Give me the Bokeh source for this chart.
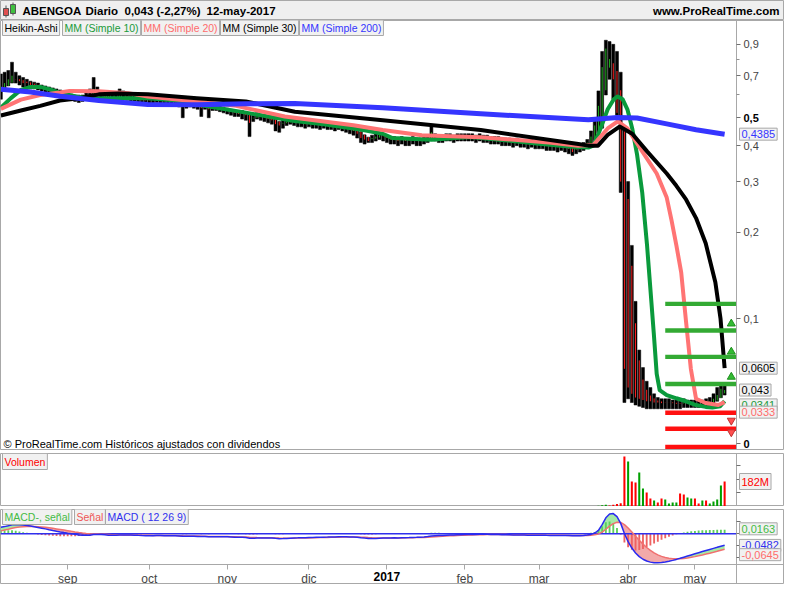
import math
from bokeh.plotting import figure
from bokeh.layouts import column
from bokeh.models import (Range1d, FixedTicker, CustomJSTransform, ColumnDataSource,
                          Label, CustomJSTickFormatter, LinearAxis)
from bokeh.transform import transform
from bokeh.core.properties import value
from bokeh.embed import file_html
from bokeh.resources import INLINE

FONT = "Liberation Sans"

# ---------------- data ----------------
month_labels = ["sep", "oct", "nov", "dic", "2017", "feb", "mar", "abr", "may"]
month_index = [18, 40, 61, 83, 104, 125, 145, 169, 187]

# Heikin-Ashi closes / highs / lows per trading day (8-ago-2016 .. 12-may-2017)
close = [.64, .66, .68, .70, .68, .67, .66, .66, .65, .645,
         .64, .635, .63, .62, .615, .61, .605, .60, .595, .59,
         .585, .58, .585, .59, .60, .63, .61, .595, .585, .58,
         .585, .59, .60, .595, .59, .585, .58, .58, .575, .575,
         .575, .575, .58, .575, .57, .575, .57, .565, .56, .545,
         .555, .56, .555, .55, .54, .55, .535, .545, .545, .54,
         .535, .53, .525, .52, .515, .52, .51, .48, .50, .51,
         .505, .50, .495, .49, .475, .47, .48, .485, .49, .485,
         .48, .48, .475, .48, .475, .475, .47, .475, .47, .47,
         .465, .47, .465, .46, .455, .45, .44, .425, .42, .415,
         .425, .43, .435, .43, .425, .42, .42, .415, .42, .415,
         .415, .42, .415, .415, .42, .425, .445, .43, .425, .425,
         .43, .43, .425, .43, .43, .43, .43, .43, .425, .43,
         .425, .425, .42, .42, .42, .415, .415, .415, .41, .415,
         .41, .41, .405, .41, .405, .405, .405, .40, .40, .40,
         .395, .40, .395, .39, .38, .39, .395, .40, .41, .43,
         .47, .55, .75, .87, .80, .68, .52, .30, .06, .045,
         .04, .037, .036, .035, .034, .034, .033, .033, .0325, .033,
         .033, .0325, .032, .032, .033, .0325, .032, .032, .032, .0325,
         .033, .034, .036, .039, .044, .043]
high = [.71, .72, .73, .78, .72, .70, .69, .68, .67, .665,
        .66, .65, .645, .64, .635, .63, .625, .62, .61, .605,
        .60, .60, .60, .61, .63, .69, .64, .62, .60, .60,
        .60, .61, .63, .62, .61, .60, .595, .595, .59, .59,
        .59, .59, .595, .59, .585, .585, .58, .58, .575, .565,
        .565, .57, .565, .56, .555, .56, .55, .555, .555, .55,
        .545, .54, .535, .53, .53, .53, .52, .51, .51, .52,
        .515, .51, .505, .50, .49, .485, .49, .495, .50, .495,
        .49, .49, .485, .49, .485, .485, .48, .485, .48, .48,
        .475, .48, .475, .47, .465, .46, .455, .44, .43, .425,
        .435, .44, .445, .44, .435, .43, .43, .425, .43, .425,
        .425, .43, .425, .425, .43, .435, .465, .44, .435, .435,
        .44, .44, .435, .44, .44, .44, .44, .44, .435, .44,
        .435, .435, .43, .43, .43, .425, .425, .425, .42, .425,
        .42, .42, .415, .42, .415, .415, .415, .41, .41, .41,
        .405, .41, .405, .40, .395, .40, .405, .41, .42, .45,
        .50, .62, .85, .93, .92, .90, .85, .72, .46, .30,
        .18, .115, .075, .061, .05, .045, .04, .037, .036, .036,
        .036, .035, .035, .035, .036, .035, .035, .035, .035, .035,
        .036, .037, .04, .045, .047, .047]
low = [.58, .62, .65, .66, .66, .65, .64, .64, .63, .63,
       .625, .62, .615, .605, .60, .595, .59, .585, .58, .575,
       .57, .565, .57, .575, .585, .60, .595, .58, .57, .565,
       .57, .575, .585, .58, .575, .57, .565, .565, .56, .56,
       .56, .56, .565, .56, .555, .56, .555, .55, .545, .50,
       .54, .545, .54, .535, .505, .535, .50, .53, .53, .525,
       .52, .515, .51, .505, .505, .495, .49, .43, .485, .495,
       .49, .485, .48, .475, .45, .445, .46, .47, .475, .47,
       .465, .465, .46, .465, .46, .46, .455, .46, .455, .455,
       .45, .455, .45, .445, .44, .435, .425, .41, .405, .41,
       .41, .415, .42, .415, .41, .405, .405, .40, .405, .40,
       .40, .405, .40, .40, .405, .41, .425, .415, .41, .41,
       .415, .415, .41, .415, .415, .415, .415, .415, .41, .415,
       .41, .41, .405, .405, .405, .40, .40, .40, .395, .40,
       .395, .395, .39, .395, .39, .39, .39, .385, .385, .385,
       .38, .385, .38, .375, .37, .375, .38, .385, .395, .41,
       .44, .46, .46, .60, .68, .58, .51, .275, .033, .036,
       .033, .031, .030, .029, .028, .028, .028, .028, .028, .028,
       .028, .028, .028, .028, .029, .029, .029, .029, .029, .029,
       .029, .030, .031, .034, .038, .039]
ha_open_start = 0.62

# moving averages (trading-day position, value)
ma10_x = [0, 2.7, 5.4, 8, 10.6, 13.3, 15.9, 21.2, 26.4, 34.3, 39.6, 47.5, 52.8, 58.1, 66, 73.9,
          79.2, 87.1, 97.6, 102.9, 105.5, 116.1, 121.4, 126.6, 137.2, 145.1, 153, 158.3, 159.6,
          160.9, 162.2, 163.5, 165.1, 166.2, 167.5, 168.8, 170.1, 171.4, 172.8, 174.1, 174.9,
          175.9, 176.7, 177.5, 179.4, 182, 184.6, 187.3, 189.9, 191.7, 193.8, 195]
ma10_v = [.542, .585, .625, .64, .64, .627, .61, .59, .585, .585, .585, .574, .556, .542, .521, .50,
          .487, .475, .453, .44, .425, .419, .424, .429, .416, .406, .397, .394, .40,
          .436, .482, .535, .579, .593, .58, .535, .459, .373, .275, .18, .132,
          .089, .056, .043, .039, .0364, .034, .031, .0295, .029, .030, .0341]
ma20_x = [0, 5.4, 10.6, 15.9, 18.5, 26.4, 34.3, 39.6, 52.8, 63.4, 76.5, 95, 102.9, 113.4, 129.3,
          147.7, 155.6, 159.6, 163.5, 166.2, 168.8, 172.8, 176.7, 179.4, 180.7, 182, 183.3,
          184.6, 185.9, 187.3, 189.9, 193.3, 195]
ma20_v = [.537, .578, .60, .612, .62, .618, .609, .593, .57, .55, .505, .471, .453, .435, .428,
          .41, .40, .402, .459, .486, .459, .382, .32, .264, .22, .18, .145,
          .098, .06, .036, .0326, .031, .0333]
ma30_x = [0, 5.4, 10.6, 15.9, 21.2, 26.4, 31.7, 39.6, 52.8, 66, 79.2, 102.9, 129.3, 155.6, 158.3,
          160.9, 163.5, 166.7, 170.1, 174.1, 179.4, 182, 184.6, 187.3, 189.9, 192.5, 193.9, 195]
ma30_v = [.509, .53, .55, .574, .585, .603, .607, .603, .585, .57, .525, .49, .453, .405, .40,
          .40, .436, .466, .44, .382, .32, .29, .26, .224, .183, .134, .10, .0605]
ma200_x = [0, 8, 16, 26.4, 39.6, 52.8, 66, 79.2, 102.9, 129.3, 158.3, 166.2, 171.4, 179.4, 187.3, 195]
ma200_v = [.628, .615, .594, .574, .556, .555, .559, .561, .542, .516, .492, .501, .499, .476,
           .454, .4385]

# volume (millions) of the visible bars, and raw direction g/r
vol_idx = list(range(160, 196))
vol_m = [4, 6, 10, 12, 8, 12, 19, 24, 364, 328, 182, 175, 247, 131, 102, 58, 44, 29, 58, 51,
         22, 29, 29, 95, 87, 66, 58, 58, 22, 44, 44, 22, 36, 51, 153, 182]
vol_dir = "ggggrrrrrgrrggrrgrrggggrrggrrgrggggr"

# MACD(12,26,9) initial states at the first visible bar
ema12_start, ema26_start, signal_start = 0.595, 0.570, 0.008

# right-hand level bars and arrows
levels_up = [0.1127, 0.0907, 0.0695, 0.0478]
levels_down = [0.0248, 0.0120, -0.0025]
level_from = 179
arrows_up = [0.0961, 0.0736, 0.0535]
arrows_down = [0.0186, 0.0093]

# ---------------- derived ----------------
n = len(close)
assert len(high) == n and len(low) == n, (len(close), len(high), len(low))
idx = list(range(n))
ha_open = []
for i in idx:
    ha_open.append(ha_open_start if i == 0 else (ha_open[i - 1] + close[i - 1]) / 2)
hh = [max(high[i], ha_open[i], close[i]) for i in idx]
ll = [min(low[i], ha_open[i], close[i]) for i in idx]
inner = ["#1fb31f" if close[i] >= ha_open[i] else "#ff1f1f" for i in idx]

a12, a26, a9 = 2 / 13, 2 / 27, 2 / 10
e12, e26, sg = ema12_start, ema26_start, signal_start
macd, sig = [], []
for c in close:
    e12 += a12 * (c - e12)
    e26 += a26 * (c - e26)
    m = e12 - e26
    sg += a9 * (m - sg)
    macd.append(m)
    sig.append(sg)
hist = [m - s for m, s in zip(macd, sig)]

# price scale: linear under 0.1, logarithmic above (as ProRealTime draws it)
SYM_JS = """
const out = new Array(xs.length);
for (let i = 0; i < xs.length; i++) {
  const v = xs[i];
  out[i] = v <= 0.1 ? v / 0.1 : 1 + Math.log(v / 0.1);
}
return out;
"""
T = CustomJSTransform(v_func=SYM_JS,
                      func="return x <= 0.1 ? x / 0.1 : 1 + Math.log(x / 0.1);")


def sym(v):
    return v / 0.1 if v <= 0.1 else 1 + math.log(v / 0.1)


# ---------------- layout constants ----------------
W = 784
FW = 736                      # width of the data area (left of the price axis)
X0, X1 = -0.1, 198.2          # data area in trading-day units
PXI = (X1 - X0) / FW          # index units per pixel
XE = X0 + W * PXI             # frames run under the axis area too
xr = Range1d(X0, XE)


def xpx(px):
    return X0 + px * PXI


def axis_style(ax, labels=True):
    ax.axis_line_color = "#a8a8a8"
    ax.major_tick_line_color = "#707070"
    ax.minor_tick_line_color = "#909090"
    ax.major_tick_out = 4
    ax.major_tick_in = 0
    ax.minor_tick_out = 3
    ax.minor_tick_in = 0
    ax.major_label_text_font = FONT
    ax.major_label_text_font_size = "11px"
    ax.major_label_standoff = 3
    if not labels:
        ax.formatter = CustomJSTickFormatter(code="return '';")


def box(fig, x, y, text, color, bold=False, align="left", bg="#f1f1f1", border="#a8a8a8",
        size="10.5px"):
    fig.add_layout(Label(x=x, y=y, text=text, text_color=color, text_font=FONT,
                         text_font_size=size, text_baseline="middle", text_align=align,
                         text_font_style="bold" if bold else "normal",
                         background_fill_color=bg, border_line_color=border, padding=2))


def plain(fig, x, y, text, color="black", bold=False, align="left", size="11px"):
    fig.add_layout(Label(x=x, y=y, text=text, text_color=color, text_font=FONT,
                         text_font_size=size, text_baseline="middle", text_align=align,
                         text_font_style="bold" if bold else "normal"))


common = dict(output_backend="svg", toolbar_location=None, min_border_left=0,
              min_border_right=0, outline_line_color="#a8a8a8", background_fill_color="white",
              border_fill_color="white", y_axis_location=None)

# ---------------- header ----------------
hdr = figure(width=W, height=20, x_range=(0, W), y_range=(0, 20), output_backend="svg",
             toolbar_location=None, min_border=0, x_axis_location=None, y_axis_location=None,
             background_fill_color="#efefef", border_fill_color="white", outline_line_color="#a8a8a8")
hdr.grid.visible = False
hdr.segment(x0=[5.5, 12.5], x1=[5.5, 12.5], y0=[3, 5], y1=[15, 18], line_color="#555555")
hdr.quad(left=[3, 10], right=[8, 15], bottom=[5, 7], top=[12, 16],
         fill_color=["#e05050", "#40c040"], line_color="#555555")
for xx, tt in [(22, "ABENGOA"), (85, "Diario"), (124, "0,043 (-2,27%)"), (206, "12-may-2017")]:
    hdr.text(x=[xx], y=[10], text=[tt], text_font=value(FONT), text_font_style="bold",
             text_font_size="11.5px", text_baseline="middle", text_color="black")
hdr.text(x=[W - 5], y=[10], text=["www.ProRealTime.com"], text_font=value(FONT),
         text_font_style="bold", text_font_size="11.5px", text_baseline="middle", text_align="right")

# ---------------- main price panel ----------------
YB, YT = -0.054, 3.388
main = figure(width=W, height=430, x_range=xr, y_range=Range1d(YB, YT), x_axis_location=None,
              min_border_top=0, min_border_bottom=0, **common)
main.grid.visible = False
ytick_vals = [0, 0.1, 0.2, 0.3, 0.4, 0.5, 0.7, 0.9]
yminor_vals = [0.6, 0.8]
yax = LinearAxis(fixed_location=X1,
                 ticker=FixedTicker(ticks=[sym(v) for v in ytick_vals],
                                    minor_ticks=[sym(v) for v in yminor_vals]),
                 formatter=CustomJSTickFormatter(code="""
const v = tick <= 1 ? tick * 0.1 : 0.1 * Math.exp(tick - 1);
const r = Math.round(v * 100) / 100;
if (r === 0 || Math.abs(r - 0.5) < 1e-6) return "";
return String(r).replace(".", ",");
"""))
axis_style(yax)
main.add_layout(yax, "right")

src = ColumnDataSource(dict(i=idx, o=ha_open, c=close, hh=hh, ll=ll, col=inner))
main.vbar(x="i", width=0.8, top=transform("hh", T), bottom=transform("ll", T),
          fill_color="black", line_color="black", line_width=0.5, source=src)
main.segment(x0="i", x1="i", y0=transform("o", T), y1=transform("c", T),
             line_color="col", line_width=1, source=src)

for xs, vs, colr, lw in [(ma10_x, ma10_v, "#0a9a3c", 4), (ma20_x, ma20_v, "#ff7474", 4),
                         (ma30_x, ma30_v, "black", 4), (ma200_x, ma200_v, "#3535ff", 5)]:
    s = ColumnDataSource(dict(x=xs, v=vs))
    main.line(x="x", y=transform("v", T), line_color=colr, line_width=lw,
              line_join="round", source=s)

lv = ColumnDataSource(dict(v=levels_up + levels_down,
                           col=["#33aa33"] * len(levels_up) + ["#ff1010"] * len(levels_down)))
main.hbar(y=transform("v", T), left=level_from, right=X1, height=0.035, fill_color="col",
          line_color=None, source=lv)
au = ColumnDataSource(dict(v=arrows_up, x=[196.8] * len(arrows_up)))
ad = ColumnDataSource(dict(v=arrows_down, x=[196.8] * len(arrows_down)))
main.scatter(x="x", y=transform("v", T), marker="triangle", size=8, fill_color="#33bb33",
             line_color="#1f8f1f", source=au)
main.scatter(x="x", y=transform("v", T), marker="inverted_triangle", size=8,
             fill_color="#ff5050", line_color="#c03030", source=ad)

# legend row
UPX = (YT - YB) / 430
ly = YT - 7 * UPX
box(main, xpx(2), ly, "Heikin-Ashi", "black")
box(main, xpx(62), ly, "MM (Simple 10)", "#1a9a3a")
box(main, xpx(141), ly, "MM (Simple 20)", "#ff6c6c")
box(main, xpx(220), ly, "MM (Simple 30)", "black")
box(main, xpx(299), ly, "MM (Simple 200)", "#3535ff")
plain(main, xpx(3), YB + 7 * UPX, "© ProRealTime.com  Históricos ajustados con dividendos")

# right-axis value boxes and bold labels
AX = X1 + 3 * PXI
plain(main, X1 + 7 * PXI, sym(0.5), "0,5", bold=True)
plain(main, X1 + 7 * PXI, sym(0.0), "0", bold=True)
box(main, AX, sym(0.4385), "0,4385", "#3535ff", size="11px")
box(main, AX, sym(0.0605), "0,0605", "black", size="11px")
box(main, AX, sym(0.043), "0,043", "black", size="11px")
box(main, AX, sym(0.0341) - 0.03, "0,0341", "#1a9a3a", size="11px")
box(main, AX, sym(0.0333) - 0.08, "0,0333", "#ff6c6c", size="11px")

# ---------------- volume panel ----------------
VT = 386
vol = figure(width=W, height=56, x_range=xr, y_range=Range1d(0, VT), x_axis_location=None,
             min_border_top=3, min_border_bottom=0, **common)
vol.grid.visible = False
vax = LinearAxis(fixed_location=X1, ticker=FixedTicker(ticks=[100, 200, 300]))
axis_style(vax, labels=False)
vol.add_layout(vax, "right")
vsrc = ColumnDataSource(dict(x=vol_idx, v=vol_m,
                             col=["#00a000" if d == "g" else "#ff0000" for d in vol_dir]))
vol.vbar(x="x", top="v", bottom=0, width=0.55, fill_color="col", line_color=None, source=vsrc)
box(vol, xpx(2), VT - 8 * VT / 53, "Volumen", "#ff0000")
box(vol, AX, 182, "182M", "#ff0000", size="11px")

# ---------------- MACD panel (its frame also holds the date axis) ----------------
MB, MT = -0.127, 0.100
UPM = (MT - MB) / 55
mac = figure(width=W, height=78, x_range=xr, y_range=Range1d(MB - 20 * UPM, MT),
             x_axis_location=None, min_border_top=3, min_border_bottom=0, **common)
mac.grid.visible = False
max_ = LinearAxis(fixed_location=X1, ticker=FixedTicker(ticks=[0.05, 0, -0.05, -0.1]))
axis_style(max_, labels=False)
mac.add_layout(max_, "right")
msrc = ColumnDataSource(dict(i=idx, m=macd, s=sig, h=hist,
                             up=[max(a, b) for a, b in zip(macd, sig)],
                             dn=[min(a, b) for a, b in zip(macd, sig)],
                             hc=["#5ccf5c" if h >= 0 else "#ee6262" for h in hist]))
mac.varea(x="i", y1="s", y2="up", fill_color="#9be89b", fill_alpha=0.9, source=msrc)
mac.varea(x="i", y1="dn", y2="s", fill_color="#f2a0a0", fill_alpha=0.9, source=msrc)
mac.vbar(x="i", top="h", bottom=0, width=0.5, fill_color="hc", line_color=None, source=msrc)
mac.segment(x0=[X0], x1=[X1], y0=[0], y1=[0], line_color="#3030ee", line_width=1.3)
mac.line(x="i", y="s", line_color="#f07070", line_width=1.5, source=msrc)
mac.line(x="i", y="m", line_color="#2a2af0", line_width=1.5, source=msrc)

my = MT - 7 * UPM
box(mac, xpx(2), my, "MACD-, señal", "#44bb44")
box(mac, xpx(74), my, "Señal", "#ee5555")
box(mac, xpx(105), my, "MACD ( 12 26 9)", "#3030ee")
box(mac, AX, 0.0163 + 0.004, "0,0163", "#44bb44", size="11px")
box(mac, AX, -0.0482, "-0,0482", "#3030ee", size="11px")
box(mac, AX, -0.0645 - 0.022, "-0,0645", "#ff6c6c", size="11px")

xa = LinearAxis(fixed_location=MB, ticker=FixedTicker(ticks=month_index))
xa.major_label_overrides = {i: ("" if l == "2017" else l) for i, l in zip(month_index, month_labels)}
xa.axis_line_color = "#a8a8a8"
xa.major_tick_line_color = "#a8a8a8"
xa.major_tick_out = 5
xa.major_tick_in = 0
xa.minor_tick_line_color = None
xa.major_label_text_font = FONT
xa.major_label_text_font_size = "12px"
xa.major_label_standoff = 2
mac.add_layout(xa, "below")
plain(mac, month_index[month_labels.index("2017")], MB - 12 * UPM, "2017", bold=True,
      align="center", size="12px")

layout = column(hdr, main, vol, mac, spacing=0)
open("out.html", "w").write(file_html(layout, INLINE))
